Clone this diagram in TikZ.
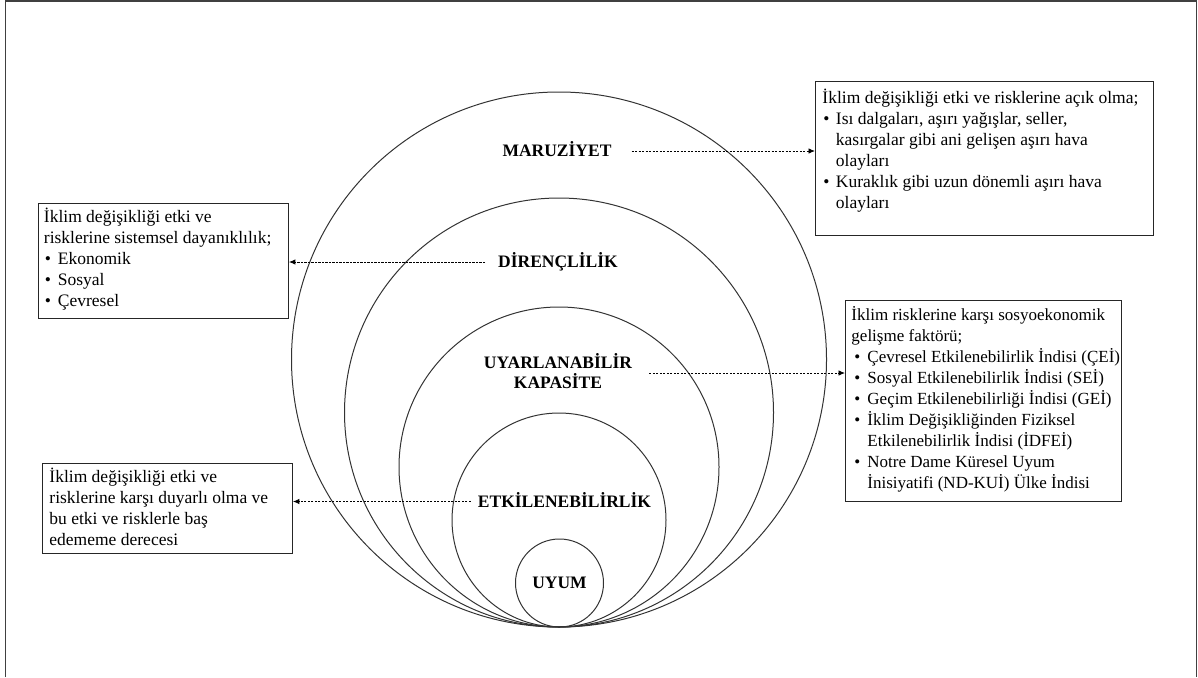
\documentclass[tikz,border=0pt]{standalone}
\usepackage{fontspec}
\setmainfont{Liberation Serif}
\usetikzlibrary{arrows.meta}
% bullet line: #1 bullet left offset, #2 text offset, #3 text
\newcommand{\bx}[3]{\mbox{\makebox[#2][l]{\hspace*{#1}•}#3}}
% continuation line
\newcommand{\cx}[2]{\mbox{\hspace*{#1}#2}}
\newcommand{\pl}[1]{\mbox{#1}}
\begin{document}
\begin{tikzpicture}[x=1pt,y=-1pt,
  ring/.style={draw=black!80,line width=1pt},
  textbox/.style={draw=black!85,line width=0.9pt,inner ysep=0pt,anchor=north west,
     font=\fontsize{17.5}{21}\selectfont},
  lab/.style={inner sep=0pt,font=\fontsize{17.5}{20}\selectfont\bfseries,
     text height=11.5pt,text depth=0pt},
  conn/.style={draw=black,line width=0.9pt,dash pattern=on 2.2pt off 1.3pt,
     -{Latex[length=6.5pt,width=5.5pt]}}
]
\useasboundingbox (0,0) rectangle (1198,677);
% outer frame (open at the bottom)
\draw[line width=1.5pt,draw=black!75] (5.5,677) -- (5.5,1) -- (1196.5,1) -- (1196.5,677);

% nested circles tangent at the bottom
\draw[ring] (559,359.5) circle[radius=267.5];
\draw[ring] (559,412.5) circle[radius=214.5];
\draw[ring] (559,467) circle[radius=160];
\draw[ring] (559,520) circle[radius=107];
\draw[ring] (559.5,583) circle[radius=44];

% labels
\node[lab] (mar) at (557,151) {MARUZİYET};
\node[lab] (dir) at (558,262) {DİRENÇLİLİK};
\node[lab,align=center,text height=31.5pt] (uya) at (558,373) {UYARLANABİLİR\\KAPASİTE};
\node[lab] (etk) at (564.5,501.5) {ETKİLENEBİLİRLİK};
\node[lab] (uyum) at (559.5,583) {UYUM};

% text boxes
\node[textbox,inner xsep=7pt] (bm) at (815,81) {\parbox[t][154pt][t]{324pt}{%
\pl{\rule{0pt}{22pt}İklim değişikliği etki ve risklerine açık olma;}\\
\bx{1pt}{13.5pt}{Isı dalgaları, aşırı yağışlar, seller,}\\
\cx{13.5pt}{kasırgalar gibi ani gelişen aşırı hava}\\
\cx{13.5pt}{olayları}\\
\bx{1pt}{13.5pt}{Kuraklık gibi uzun dönemli aşırı hava}\\
\cx{13.5pt}{olayları}}};

\node[textbox,inner xsep=5.5pt] (bd) at (38,203) {\parbox[t][115pt][t]{239pt}{%
\pl{\rule{0pt}{19.5pt}İklim değişikliği etki ve}\\
\pl{risklerine sistemsel dayanıklılık;}\\
\bx{1pt}{14pt}{Ekonomik}\\
\bx{1pt}{14pt}{Sosyal}\\
\bx{1pt}{14pt}{Çevresel}}};

\node[textbox,inner xsep=6pt,font=\fontsize{17}{21}\selectfont] (bu) at (845,300) {\parbox[t][201pt][t]{264pt}{%
\pl{\rule{0pt}{20.5pt}İklim risklerine karşı sosyoekonomik}\\
\pl{gelişme faktörü;}\\
\bx{3pt}{16pt}{Çevresel Etkilenebilirlik İndisi (ÇEİ)}\\
\bx{3pt}{16pt}{Sosyal Etkilenebilirlik İndisi (SEİ)}\\
\bx{3pt}{16pt}{Geçim Etkilenebilirliği İndisi (GEİ)}\\
\bx{3pt}{16pt}{İklim Değişikliğinden Fiziksel}\\
\cx{16pt}{Etkilenebilirlik İndisi (İDFEİ)}\\
\bx{3pt}{16pt}{Notre Dame Küresel Uyum}\\
\cx{16pt}{İnisiyatifi (ND-KUİ) Ülke İndisi}}};

\node[textbox,inner xsep=7pt] (be) at (42,463) {\parbox[t][90pt][t]{236pt}{%
\pl{\rule{0pt}{19pt}İklim değişikliği etki ve}\\
\pl{risklerine karşı duyarlı olma ve}\\
\pl{bu etki ve risklerle baş}\\
\pl{edememe derecesi}}};

% connectors
\draw[conn,shorten <=20pt] (mar.east) -- (mar.east -| bm.west);
\draw[conn,shorten <=13pt] (dir.west) -- (dir.west -| bd.east);
\draw[conn,shorten <=17pt] (uya.east) -- (uya.east -| bu.west);
\draw[conn,shorten <=7pt] (etk.west) -- (etk.west -| be.east);
\end{tikzpicture}
\end{document}
